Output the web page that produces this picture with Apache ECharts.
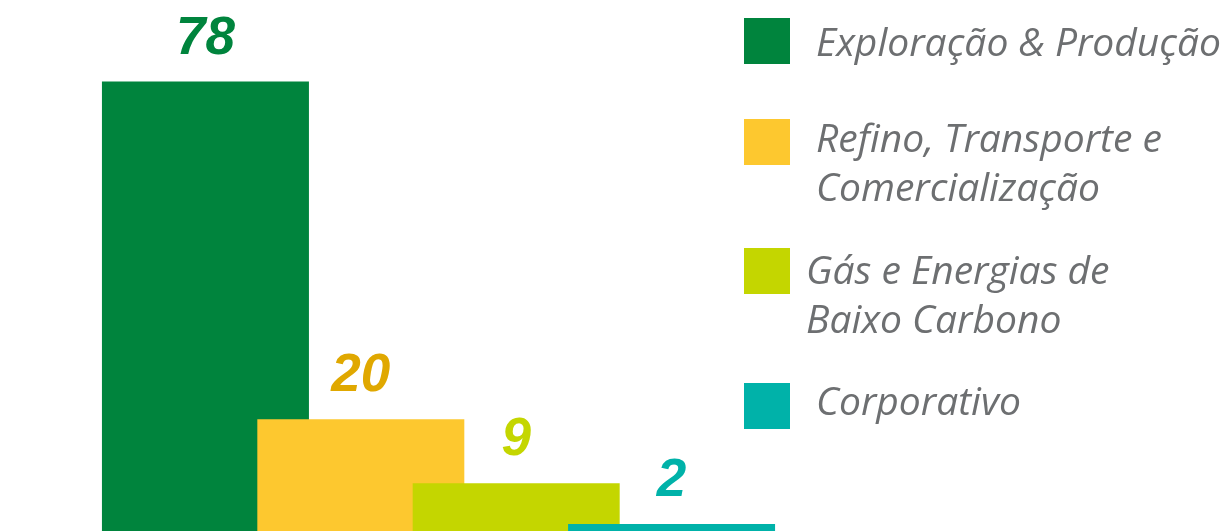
<!DOCTYPE html>
<html>
<head>
<meta charset="utf-8">
<script src="https://cdn.jsdelivr.net/npm/echarts@6/dist/echarts.min.js"></script>
<style>
    html, body { margin: 0; padding: 0; background: #fff; }
    #chart { width: 1232px; height: 531px; }
</style>
</head>
<body>
<div id="chart"></div>
<script>
const segmentos = ['Exploração & Produção', 'Refino, Transporte e\nComercialização', 'Gás e Energias de\nBaixo Carbono', 'Corporativo'];
const valores = [78, 20, 9, 2];
const coresBarra = ['#00843D', '#FDC82F', '#C4D600', '#00B2A9'];
const coresRotulo = ['#00843D', '#E0A800', '#C4D600', '#00B2A9'];

const chart = echarts.init(document.getElementById('chart'));

// legenda montada à mão: quadrado + texto (posições tiradas da imagem)
const legendaQuadTop = [18, 119, 248, 383];
const legendaTextoTop = [20, 116, 248, 379];
const legendaTextoLeft = [816, 816, 806, 816];
let graficos = [];
segmentos.forEach(function (nome, i) {
    graficos.push({
        type: 'rect',
        left: 744,
        top: legendaQuadTop[i],
        shape: {width: 46, height: 46},
        style: {fill: coresBarra[i]}
    });
    graficos.push({
        type: 'text',
        left: legendaTextoLeft[i],
        top: legendaTextoTop[i],
        style: {
            text: nome,
            fill: '#6D6F71',
            font: 'italic 39px "Open Sans"',
            lineHeight: 49
        }
    });
});

chart.setOption({
    animation: false,
    grid: {
        left: 127.75,
        width: 621.5,
        top: 0,
        height: 535.6,   // a base das barras fica um pouco abaixo da imagem
        outerBoundsMode: 'none'
    },
    xAxis: {
        type: 'category',
        data: segmentos,
        show: false
    },
    yAxis: {
        type: 'value',
        min: 0,
        max: 92,
        show: false
    },
    series: [
        {
            type: 'bar',
            barWidth: 207,
            clip: false,
            data: valores.map(function (v, i) {
                return {
                    value: v,
                    itemStyle: {color: coresBarra[i]},
                    label: {color: coresRotulo[i]}
                };
            }),
            label: {
                show: true,
                position: 'top',
                distance: 16,
                fontFamily: '"Liberation Sans", sans-serif',
                fontWeight: 'bold',
                fontStyle: 'italic',
                fontSize: 53
            }
        }
    ],
    graphic: graficos
});
</script>
</body>
</html>
